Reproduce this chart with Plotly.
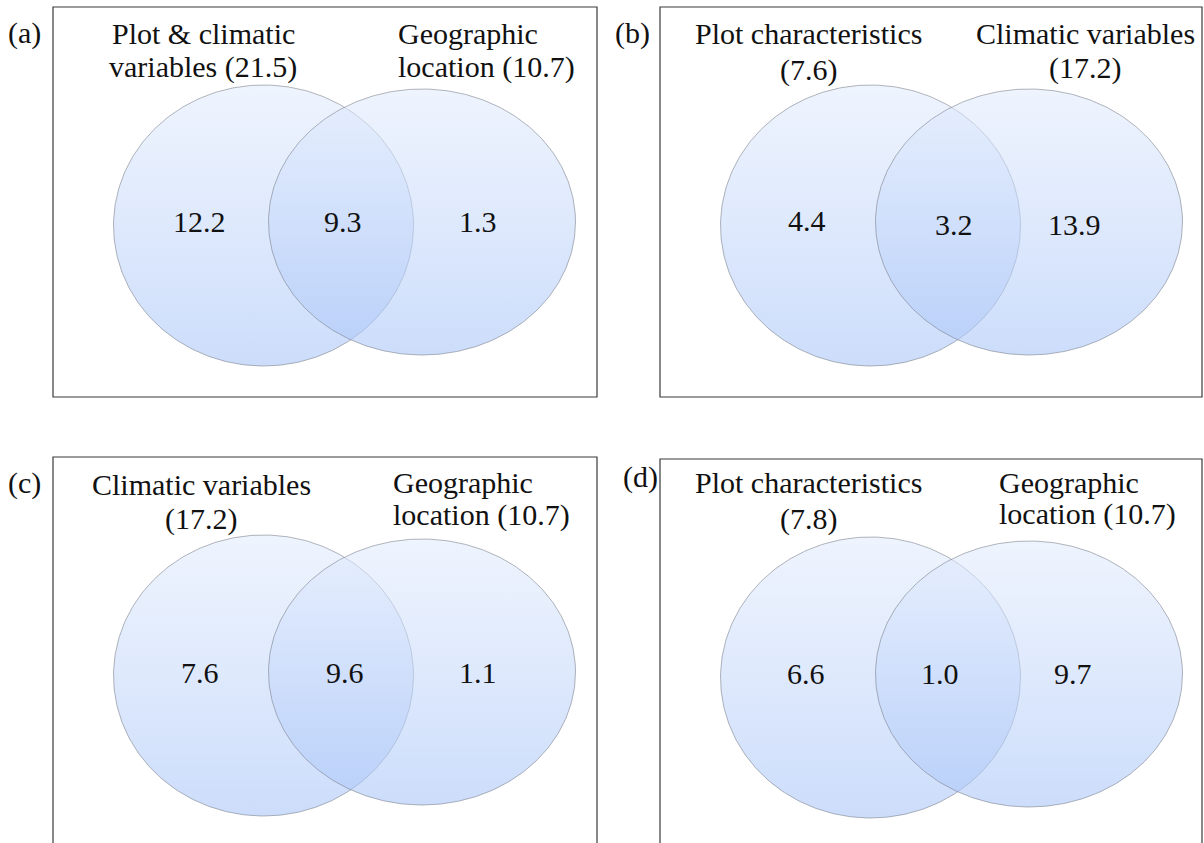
import numpy as np
import plotly.graph_objects as go

# ---- data -------------------------------------------------------------
panel_tags = ["(a)", "(b)", "(c)", "(d)"]
left_names = ["Plot & climatic variables", "Plot characteristics",
              "Climatic variables", "Plot characteristics"]
left_totals = [21.5, 7.6, 17.2, 7.8]
right_names = ["Geographic location", "Climatic variables",
               "Geographic location", "Geographic location"]
right_totals = [10.7, 17.2, 10.7, 10.7]
left_only = [12.2, 4.4, 7.6, 6.6]
shared = [9.3, 3.2, 9.6, 1.0]
right_only = [1.3, 13.9, 1.1, 9.7]

# ---- layout (pixel space of the page) ---------------------------------
W, H = 1204, 843
FONT = "Liberation Serif"
FS = 30

# panel frame: left, top, right, bottom
frames = [(53, 7, 597, 397), (660, 7, 1202, 397),
          (53, 457, 597, 850), (660, 459, 1202, 850)]
tag_pos = [(24, 33), (632, 33), (24, 483), (640, 477)]

# ellipse geometry relative to frame origin: cx, cy, rx, ry
left_ell = (210.5, 218.5, 150, 140.5)
right_ell = (369, 215, 153.5, 133)

# word index where each set title wraps to a second line
left_break = [3, 2, 2, 2]
right_break = [1, 2, 1, 1]
right_align = ["left", "center", "left", "left"]
# title anchor x (relative) and line y centres (relative)
left_title_x = [150, 148, 148, 148]
right_title_x = [343, 425, 338, 337]
left_title_y = [(26, 60), (26, 63), (27, 62), (23, 60)]
right_title_y = [(26, 60), (26, 61), (25, 58), (23, 55)]
# region value label positions (relative)
num_x = [(146, 290, 425), (147, 294, 414), (147, 292, 425), (146, 280, 413)]
num_y = [(214, 214, 214), (213, 217, 217), (215, 215, 215), (214, 214, 214)]

fig = go.Figure()
t = np.linspace(0, 2 * np.pi, 361)


def ellipse(ox, oy, geom):
    cx, cy, rx, ry = geom
    x = ox + cx + rx * np.cos(t)
    y = oy + cy + ry * np.sin(t)
    fig.add_trace(go.Scatter(
        x=x, y=y, mode="lines", fill="toself",
        line=dict(color="rgba(115,120,132,0.55)", width=1),
        fillgradient=dict(
            type="vertical",
            start=oy + cy - ry, stop=oy + cy + ry,
            colorscale=[[0, "rgba(225,235,253,0.55)"],
                        [1, "rgba(170,198,248,0.6)"]]),
        hoverinfo="skip", showlegend=False))


def wrap(name, total, k):
    words = f"{name} ({total})".split(" ")
    return " ".join(words[:k]), " ".join(words[k:])


annotations = []


def text(x, y, s, align="center"):
    annotations.append(dict(
        x=x, y=y, xref="x", yref="y", text=s,
        showarrow=False, xanchor=align, yanchor="middle",
        font=dict(family=FONT, size=FS, color="#111111")))


shapes = []
for i, (x0, y0, x1, y1) in enumerate(frames):
    shapes.append(dict(type="rect", xref="x", yref="y",
                       x0=x0, y0=y0, x1=x1, y1=y1,
                       line=dict(color="#3a3a3a", width=1.2),
                       fillcolor="rgba(0,0,0,0)", layer="below"))
    ellipse(x0, y0, left_ell)
    ellipse(x0, y0, right_ell)

    text(tag_pos[i][0], tag_pos[i][1], panel_tags[i])

    l1, l2 = wrap(left_names[i], left_totals[i], left_break[i])
    text(x0 + left_title_x[i], y0 + left_title_y[i][0], l1)
    text(x0 + left_title_x[i], y0 + left_title_y[i][1], l2)

    r1, r2 = wrap(right_names[i], right_totals[i], right_break[i])
    text(x0 + right_title_x[i], y0 + right_title_y[i][0], r1, right_align[i])
    text(x0 + right_title_x[i], y0 + right_title_y[i][1], r2, right_align[i])

    vals = (left_only[i], shared[i], right_only[i])
    for v, nx, ny in zip(vals, num_x[i], num_y[i]):
        text(x0 + nx, y0 + ny, f"{v:.1f}")

fig.update_layout(
    width=W, height=H,
    margin=dict(l=0, r=0, t=0, b=0),
    paper_bgcolor="white", plot_bgcolor="white",
    xaxis=dict(range=[0, W], visible=False, fixedrange=True),
    yaxis=dict(range=[H, 0], visible=False, fixedrange=True),
    shapes=shapes, annotations=annotations,
)

fig.write_html("out.html")
